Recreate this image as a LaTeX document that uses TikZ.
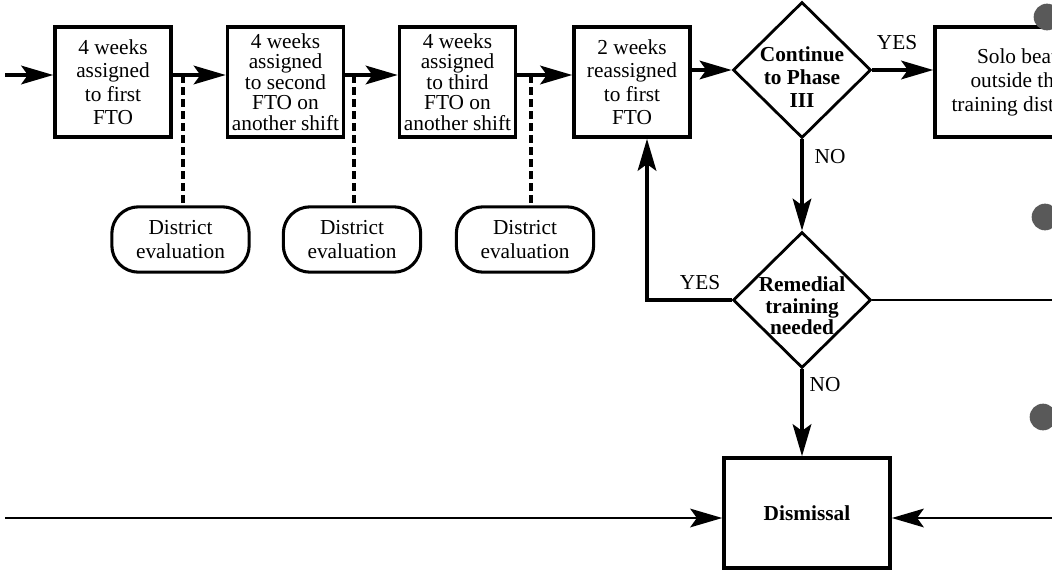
\documentclass[tikz,border=0pt]{standalone}
\usepackage{fontspec}
\setmainfont{Liberation Serif}
\usetikzlibrary{shapes.geometric,arrows.meta}
\begin{document}
\begin{tikzpicture}[x=0.75pt,y=-0.75pt,
  box/.style={draw, line width=2.7pt, minimum width=87pt, minimum height=82.5pt,
    inner sep=0pt, align=center, font=\fontsize{16}{17.6}\selectfont},
  tightbox/.style={box, font=\fontsize{16}{15.4}\selectfont},
  dia/.style={draw, diamond, line width=2.1pt, minimum width=103.5pt,
    minimum height=102pt, inner sep=0pt},
  btxt/.style={align=center, inner sep=0pt, font=\bfseries\fontsize{16}{17.4}\selectfont},
  evalbox/.style={draw, rounded corners=20pt, line width=2.3pt, minimum width=103pt,
    minimum height=49pt, inner sep=0pt, align=center, font=\fontsize{16}{18}\selectfont},
  lbl/.style={inner sep=0pt, font=\fontsize{16}{17}\selectfont},
  arr/.style={line width=2.4pt, -{Stealth[length=24pt,width=14pt,inset=5pt]}},
  arrthin/.style={line width=1.8pt, -{Stealth[length=24pt,width=14pt,inset=5pt]}},
  conn/.style={line width=1.7pt},
  dsh/.style={line width=3pt, dash pattern=on 6pt off 3pt}
]
\useasboundingbox (0,0) rectangle (1052,571);
\clip (0,0) rectangle (1052,571);

% coordinates
\coordinate (ay) at (0,75);
\coordinate (in) at (5,75);
\coordinate (yx) at (647,300);
\coordinate (dl) at (5,518);
\coordinate (dr) at (1070,518);
\coordinate (rr) at (1070,300);
\coordinate (k1) at (183,75);
\coordinate (k2) at (354,75);
\coordinate (k3) at (531,75);

% process boxes
\node[box] (b1) at (113,82) {4 weeks\\assigned\\to first\\FTO};
\node[tightbox] (b2) at (285.5,82) {4 weeks\\assigned\\to second\\FTO on\\another shift};
\node[tightbox] (b3) at (457.5,82) {4 weeks\\assigned\\to third\\FTO on\\another shift};
\node[box] (b4) at (632,82) {2 weeks\\reassigned\\to first\\FTO};
\node[box, minimum width=123pt, font=\fontsize{16}{18}\selectfont] (b5) at (1017,82)
  {Solo beat\\outside the\\training district};
\node[box, minimum width=124.5pt] (dis) at (807,513) {\bfseries Dismissal};

% decisions
\node[dia] (d1) at (802,70) {};
\node[btxt] (t1) at (802,77) {Continue\\to Phase\\III};
\node[dia] (d2) at (802,300) {};
\node[btxt, font=\bfseries\fontsize{16}{16}\selectfont] (t2) at (802,306) {Remedial\\training\\needed};

% evaluations
\node[evalbox] (e1) at (180.5,239.5) {District\\evaluation};
\node[evalbox] (e2) at (352,239.5) {District\\evaluation};
\node[evalbox] (e3) at (525,239.5) {District\\evaluation};

% labels
\node[lbl] (y1) at (897,43) {YES};
\node[lbl] (n1) at (830,157) {NO};
\node[lbl] (y2) at (700,283) {YES};
\node[lbl] (n2) at (825,385) {NO};

% connectors
\draw[arr] (in) -- (in -| b1.west);
\draw[arr] (b1.east |- ay) -- (b2.west |- ay);
\draw[arr] (b2.east |- ay) -- (b3.west |- ay);
\draw[arr] (b3.east |- ay) -- (b4.west |- ay);
\draw[arr] (b4.east |- d1.west) -- (d1.west);
\draw[arr] (d1.east) -- (b5.west |- d1.east);
\draw[arr] (d1.south) -- (d2.north);
\draw[arr] (d2.west) -- (yx) -- (yx |- b4.south);
\draw[conn] (d2.east) -- (rr);
\draw[arr] (d2.south) -- (d2.south |- dis.north);
\draw[arrthin] (dl) -- (dl -| dis.west);
\draw[arrthin] (dr) -- (dr -| dis.east);

\draw[dsh] (k1) -- (k1 |- e1.north);
\draw[dsh] (k2) -- (k2 |- e2.north);
\draw[dsh] (k3) -- (k3 |- e3.north);

% punch holes at the right edge
\fill[black!65] (1047,17) circle[radius=10pt];
\fill[black!65] (1045,217) circle[radius=10pt];
\fill[black!65] (1043,417) circle[radius=10pt];
\end{tikzpicture}
\end{document}
